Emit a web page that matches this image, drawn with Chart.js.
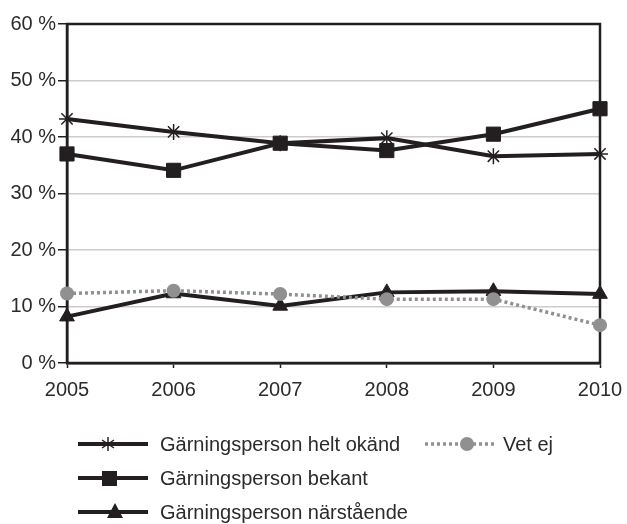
<!DOCTYPE html>
<html>
<head>
<meta charset="utf-8">
<script src="https://cdn.jsdelivr.net/npm/chart.js@4"></script>
<style>
    body { margin: 0; background: #fff; }
    #wrap { position: relative; width: 627px; height: 524px; }
    .leg { position: absolute; display: flex; align-items: center; font: 20px "Liberation Sans", Arial, sans-serif; color: #2b2b2b; height: 30px; }
    .leg svg { margin-right: 10px; }
</style>
</head>
<body>
<div id="wrap">
    <canvas id="chart" width="627" height="524"></canvas>
    <div class="leg" style="left:78px; top:429px;">
        <svg width="72" height="30"><line x1="0" y1="15" x2="70" y2="15" stroke="#231f20" stroke-width="4"/>
            <g stroke="#231f20" stroke-width="1.5"><line x1="30" y1="8" x2="30" y2="22"/><line x1="24" y1="11" x2="36" y2="19"/><line x1="24" y1="19" x2="36" y2="11"/></g></svg>
        Gärningsperson helt okänd
    </div>
    <div class="leg" style="left:425px; top:429px;">
        <svg width="72" height="30" style="margin-right:6px"><line x1="0" y1="15" x2="72" y2="15" stroke="#909090" stroke-width="3.5" stroke-dasharray="3,3"/>
            <circle cx="42" cy="15" r="7" fill="#909090"/></svg>
        Vet ej
    </div>
    <div class="leg" style="left:78px; top:463px;">
        <svg width="72" height="30"><line x1="0" y1="15" x2="70" y2="15" stroke="#231f20" stroke-width="4"/>
            <rect x="24" y="8" width="15" height="15" fill="#231f20"/></svg>
        Gärningsperson bekant
    </div>
    <div class="leg" style="left:78px; top:497px;">
        <svg width="72" height="30"><line x1="0" y1="15" x2="70" y2="15" stroke="#231f20" stroke-width="4"/>
            <polygon points="37,6 45,21 29,21" fill="#231f20"/></svg>
        Gärningsperson närstående
    </div>
</div>
<script>
const years = ['2005', '2006', '2007', '2008', '2009', '2010'];
const heltOkand = [43.2, 40.9, 38.9, 39.8, 36.6, 37.0];
const bekant = [37.0, 34.1, 38.9, 37.6, 40.5, 45.0];
const narstaende = [8.2, 12.3, 10.1, 12.5, 12.7, 12.2];
const vetEj = [12.3, 12.8, 12.2, 11.3, 11.3, 6.7];

const ink = '#231f20';
const grey = '#909090';

const frame = {
    id: 'frame',
    beforeDatasetsDraw(chart) {
        const a = chart.chartArea;
        const ctx = chart.ctx;
        ctx.save();
        ctx.strokeStyle = ink;
        ctx.lineWidth = 2.5;
        ctx.strokeRect(a.left, a.top, a.right - a.left, a.bottom - a.top);
        ctx.restore();
    }
};

new Chart(document.getElementById('chart'), {
    type: 'line',
    data: {
        labels: years,
        datasets: [
            {
                label: 'Vet ej',
                data: vetEj,
                borderColor: grey,
                backgroundColor: grey,
                borderWidth: 3.5,
                borderDash: [3, 3],
                pointStyle: 'circle',
                pointRadius: 7,
                pointBorderWidth: 0,
                order: 0
            },
            {
                label: 'Gärningsperson helt okänd',
                data: heltOkand,
                borderColor: ink,
                backgroundColor: ink,
                borderWidth: 4,
                pointStyle: 'star',
                pointRadius: 8,
                pointBorderWidth: 1.5,
                order: 1
            },
            {
                label: 'Gärningsperson bekant',
                data: bekant,
                borderColor: ink,
                backgroundColor: ink,
                borderWidth: 4,
                pointStyle: 'rect',
                pointRadius: 10,
                pointBorderWidth: 1,
                order: 2
            },
            {
                label: 'Gärningsperson närstående',
                data: narstaende,
                borderColor: ink,
                backgroundColor: ink,
                borderWidth: 4,
                pointStyle: 'triangle',
                pointRadius: 8.5,
                pointBorderWidth: 1,
                order: 3
            }
        ]
    },
    options: {
        responsive: false,
        devicePixelRatio: 1,
        animation: false,
        layout: {
            padding: { top: 24, right: 27, left: 0, bottom: 0 }
        },
        elements: {
            line: { tension: 0 }
        },
        plugins: {
            legend: { display: false },
            tooltip: { enabled: false }
        },
        scales: {
            x: {
                offset: false,
                afterFit: (scale) => {
                    scale.height = 161;
                    scale.paddingRight = 0;
                    scale.paddingLeft = 0;
                },
                grid: {
                    drawOnChartArea: false,
                    tickLength: 5,
                    tickColor: ink,
                    tickWidth: 1.5
                },
                border: { color: ink, width: 2.5 },
                ticks: {
                    color: '#2b2b2b',
                    padding: 10,
                    maxRotation: 0,
                    font: { family: '"Liberation Sans", Arial, sans-serif', size: 20 }
                }
            },
            y: {
                min: 0,
                max: 60,
                afterFit: (scale) => { scale.width = 67; },
                grid: {
                    color: '#cccccc',
                    lineWidth: 1.5,
                    tickLength: 9,
                    tickColor: ink,
                    tickWidth: 1.5
                },
                border: { color: ink, width: 2.5 },
                ticks: {
                    stepSize: 10,
                    color: '#2b2b2b',
                    padding: 2,
                    callback: (v) => v + ' %',
                    font: { family: '"Liberation Sans", Arial, sans-serif', size: 20 }
                }
            }
        }
    },
    plugins: [frame]
});
</script>
</body>
</html>
